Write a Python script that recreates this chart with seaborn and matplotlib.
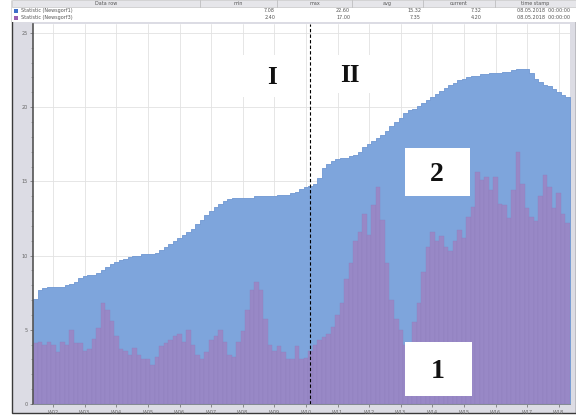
import numpy as np
import pandas as pd
import seaborn as sns
import matplotlib
matplotlib.use('Agg')
import matplotlib.pyplot as plt
from matplotlib.patches import Rectangle
from matplotlib.ticker import MultipleLocator

# daily values, one per day (119 days)
statistic_1 = [7.1, 7.7, 7.8, 7.9, 7.9, 7.9, 7.9, 8.0, 8.1, 8.2,
               8.5, 8.6, 8.7, 8.7, 8.8, 9.0, 9.2, 9.4, 9.6, 9.7,
               9.8, 9.9, 10.0, 10.0, 10.1, 10.1, 10.1, 10.2, 10.4, 10.6,
               10.8, 11.0, 11.2, 11.4, 11.6, 11.8, 12.1, 12.4, 12.7, 13.0,
               13.3, 13.5, 13.7, 13.8, 13.9, 13.9, 13.9, 13.9, 13.9, 14.0,
               14.0, 14.0, 14.0, 14.0, 14.1, 14.1, 14.1, 14.2, 14.3, 14.5,
               14.6, 14.7, 14.8, 15.2, 15.9, 16.2, 16.4, 16.5, 16.6, 16.6,
               16.7, 16.8, 17.0, 17.3, 17.5, 17.7, 17.9, 18.1, 18.4, 18.7,
               19.0, 19.3, 19.6, 19.8, 19.9, 20.1, 20.3, 20.5, 20.7, 20.9,
               21.1, 21.3, 21.5, 21.6, 21.8, 21.9, 22.0, 22.1, 22.1, 22.2,
               22.2, 22.3, 22.3, 22.3, 22.4, 22.4, 22.5, 22.6, 22.6, 22.6,
               22.3, 21.9, 21.7, 21.5, 21.4, 21.2, 21.0, 20.8, 20.7]

statistic_2 = [4.1, 4.2, 4.0, 4.2, 4.0, 3.5, 4.2, 4.0, 5.0, 4.1,
               4.1, 3.6, 3.7, 4.4, 5.1, 6.8, 6.3, 5.6, 4.6, 3.7,
               3.6, 3.3, 3.8, 3.3, 3.0, 3.0, 2.6, 3.2, 3.9, 4.1,
               4.3, 4.6, 4.7, 4.2, 5.0, 4.0, 3.3, 3.0, 3.5, 4.3,
               4.6, 5.0, 4.2, 3.3, 3.2, 4.2, 4.9, 6.3, 7.7, 8.2,
               7.7, 5.7, 4.0, 3.6, 3.9, 3.5, 3.0, 3.0, 3.9, 3.0,
               3.1, 3.6, 4.0, 4.3, 4.5, 4.7, 5.2, 6.0, 6.8, 8.4,
               9.5, 11.0, 11.6, 12.8, 11.4, 13.4, 14.6, 12.4, 9.5, 7.0,
               5.7, 5.0, 4.0, 3.4, 5.5, 6.8, 8.9, 10.6, 11.6, 11.0,
               11.3, 10.6, 10.3, 11.0, 11.7, 11.2, 12.6, 13.3, 15.6, 15.1,
               15.3, 14.4, 15.3, 13.5, 13.4, 12.5, 14.4, 17.0, 14.8, 13.2,
               12.6, 12.3, 14.0, 15.4, 14.6, 13.2, 14.2, 12.8, 12.2]

week_labels = ['W02', 'W03', 'W04', 'W05', 'W06', 'W07', 'W08', 'W09', 'W10',
               'W11', 'W12', 'W13', 'W14', 'W15', 'W16', 'W17', 'W18']
first_week_day = 4
phase_split_day = 60.9

# legend table
table_cols = ['Data row', 'min', 'max', 'avg', 'current', 'time stamp']
row_names = ['Statistic (Newsgorf1)', 'Statistic (Newsgorf3)']
row_min = ['7.08', '2.40']
row_max = ['22.60', '17.00']
row_avg = ['15.32', '7.35']
row_current = ['7.32', '4.20']
row_stamp = ['08.05.2018  00:00:00', '08.05.2018  00:00:00']

blue = '#7ea5dc'
purple = '#9888c6'

df = pd.DataFrame({'day': np.arange(len(statistic_1)),
                   's1': statistic_1, 's2': statistic_2})

sns.set_theme(style='white')
plt.rcParams['font.family'] = ['DejaVu Sans']

W, H = 576, 416
fig = plt.figure(figsize=(W / 100, H / 100), dpi=100)
fig.patch.set_facecolor('white')


def fx(px):
    return px / W


def fy(py):
    return 1 - py / H


# window background
fig.patches.append(Rectangle((fx(12), fy(413)), fx(576) - fx(12), fy(0) - fy(413),
                             transform=fig.transFigure, facecolor='#dcdce4',
                             edgecolor='#3a3a3a', lw=1.0, zorder=-2))

ax = fig.add_axes([fx(33), fy(404), fx(570) - fx(33), fy(24) - fy(404)])
ax.set_facecolor('white')

sns.histplot(data=df, x='day', weights='s1', discrete=True, element='step',
             fill=True, color=blue, alpha=1, edgecolor='#6f97d2', linewidth=0.6, ax=ax)
sns.histplot(data=df, x='day', weights='s2', discrete=True, element='bars',
             fill=True, color=purple, alpha=1, edgecolor='#8e7ebe', linewidth=0.25, ax=ax)

ax.set_xlim(-0.5, len(statistic_1) - 0.5)
ax.set_ylim(0, 25.6)
ax.set_xlabel('')
ax.set_ylabel('')

week_ticks = [first_week_day + 7 * i for i in range(len(week_labels))]
ax.set_xticks(week_ticks)
ax.set_xticklabels(week_labels)
ax.yaxis.set_major_locator(MultipleLocator(5))
ax.yaxis.set_minor_locator(MultipleLocator(1))
ax.tick_params(axis='both', which='major', labelsize=3.5, colors='#666666',
               length=2.5, width=0.5, pad=1.5, direction='out')
ax.tick_params(axis='y', which='minor', length=1.5, width=0.4, colors='#777777', left=True)
ax.tick_params(axis='x', bottom=True)
ax.tick_params(axis='y', left=True)
ax.set_axisbelow(True)
ax.grid(True, which='major', color='#e2e2e2', lw=0.6)

for side in ['top', 'right']:
    ax.spines[side].set_visible(False)
ax.spines['left'].set_color('#555555')
ax.spines['left'].set_linewidth(1.2)
ax.spines['bottom'].set_color('#888888')
ax.spines['bottom'].set_linewidth(0.6)

ax.axvline(phase_split_day, color='black', ls=(0, (3, 2)), lw=0.8, zorder=5)

# header table
fig.patches.append(Rectangle((fx(12), fy(22)), fx(576) - fx(12), fy(0) - fy(22),
                             transform=fig.transFigure, facecolor='white',
                             edgecolor='none', zorder=1))
fig.patches.append(Rectangle((fx(12), fy(7)), fx(576) - fx(12), fy(0) - fy(7),
                             transform=fig.transFigure, facecolor='#e6e6ea',
                             edgecolor='#bbbbbb', lw=0.4, zorder=1))
col_edges = [12, 200, 277, 352, 423, 495, 576]
for xe in col_edges[1:-1]:
    fig.add_artist(plt.Line2D([fx(xe), fx(xe)], [fy(0), fy(7)], transform=fig.transFigure,
                              color='#aaaaaa', lw=0.4, zorder=2))
for i, name in enumerate(table_cols):
    xc = (col_edges[i] + col_edges[i + 1]) / 2
    fig.text(fx(xc), fy(3.5), name, fontsize=3.5, color='#555555', ha='center', va='center', zorder=3)

row_y = [10.5, 17.5]
sq_colors = ['#3d6fc8', '#9a5fb0']
for r in range(2):
    fig.patches.append(Rectangle((fx(14), fy(row_y[r] + 2)), fx(4), fx(4) * W / H,
                                 transform=fig.transFigure, facecolor=sq_colors[r],
                                 edgecolor='none', zorder=2))
    fig.text(fx(21), fy(row_y[r]), row_names[r], fontsize=3.5, color='#555555',
             ha='left', va='center', zorder=3)
    for xe, val in zip([275, 350, 421, 482], [row_min[r], row_max[r], row_avg[r], row_current[r]]):
        fig.text(fx(xe), fy(row_y[r]), val, fontsize=3.5, color='#555555',
                 ha='right', va='center', zorder=3)
    fig.text(fx(570), fy(row_y[r]), row_stamp[r], fontsize=3.5, color='#555555',
             ha='right', va='center', zorder=3)

# annotation boxes
boxes = [(240, 55, 305, 97, 'I', 272, 18), (315, 55, 400, 93, 'II', 350, 18),
         (405, 148, 470, 196, '2', 437, 20), (405, 342, 472, 396, '1', 438, 20)]
for x0, y0, x1, y1, label, xt, fs in boxes:
    fig.patches.append(Rectangle((fx(x0), fy(y1)), fx(x1) - fx(x0), fy(y0) - fy(y1),
                                 transform=fig.transFigure, facecolor='white',
                                 edgecolor='none', zorder=1))
    fig.text(fx(xt), fy((y0 + y1) / 2 + 2), label, fontsize=fs, fontweight='bold',
             family='Liberation Serif', color='#111111', ha='center', va='center', zorder=3)

fig.savefig('out.png', dpi=100, facecolor=fig.get_facecolor())
